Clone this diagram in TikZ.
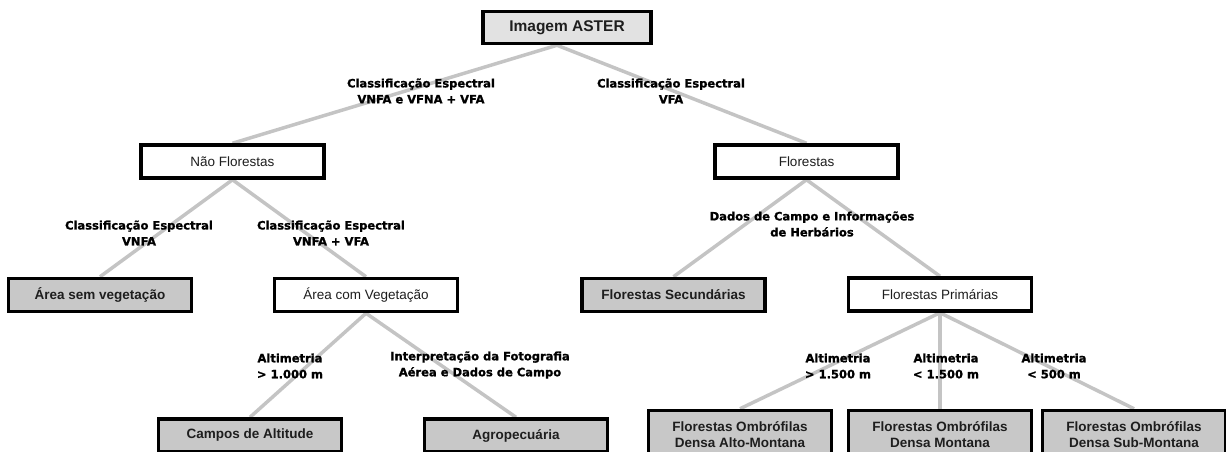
\documentclass[tikz,border=0pt]{standalone}
\usepackage{fontspec}
\setmainfont{Liberation Sans}
\newfontfamily\lblfont{DejaVu Sans}[BoldFeatures={FakeBold=1.2}]
\usepackage{tikz}
\usetikzlibrary{backgrounds}

\definecolor{linkgray}{HTML}{C4C4C4}
\definecolor{leafgray}{HTML}{C8C8C8}
\definecolor{rootgray}{HTML}{E2E2E2}
\definecolor{inkgray}{HTML}{1E1E1E}

\tikzset{
  classbox/.style={draw=black, line width=3.5pt, fill=white, text=inkgray,
    minimum width=183pt, minimum height=33pt, inner sep=0pt, align=center,
    font=\fontsize{13.5}{16}\selectfont},
  leafbox/.style={classbox, fill=leafgray, font=\bfseries\fontsize{13.5}{16}\selectfont},
  rootbox/.style={classbox, fill=rootgray, minimum width=168pt, minimum height=32pt,
    font=\bfseries\fontsize{15.5}{18}\selectfont},
  lbl/.style={align=center, inner sep=0pt, text=black,
    font=\lblfont\bfseries\fontsize{11.5}{16}\selectfont},
  link/.style={draw=linkgray, line width=3.5pt}
}

\begin{document}
\begin{tikzpicture}[x=1pt, y=-1pt]
  \useasboundingbox (0,0) rectangle (1226,452);

  \node[rootbox] (img) at (567,27.5) {Imagem ASTER};
  \node[classbox] (nf) at (232.5,161.5) {Não Florestas};
  \node[classbox] (fl) at (806.5,161.5) {Florestas};
  \node[leafbox] (asv) at (100,295) {Área sem vegetação};
  \node[classbox] (acv) at (366,295) {Área com Vegetação};
  \node[leafbox] (fs) at (673.5,295) {Florestas Secundárias};
  \node[classbox] (fp) at (940,294.5) {Florestas Primárias};
  \node[leafbox] (ca) at (250,435.5) {Campos de Altitude};
  \node[leafbox] (ag) at (516,435.5) {Agropecuária};
  \node[leafbox, minimum height=49pt] (fo1) at (740,435) {Florestas Ombrófilas\\Densa Alto-Montana};
  \node[leafbox, minimum height=49pt] (fo2) at (940,435) {Florestas Ombrófilas\\Densa Montana};
  \node[leafbox, minimum height=49pt] (fo3) at (1134,435) {Florestas Ombrófilas\\Densa Sub-Montana};

  \begin{scope}[on background layer]
    \path[link]
    ([xshift=-10pt]img.south) edge (nf.north)
    ([xshift=-10pt]img.south) edge (fl.north)
    (nf.south) edge (asv.north)
    (nf.south) edge (acv.north)
    (fl.south) edge (fs.north)
    (fl.south) edge (fp.north)
    (acv.south) edge (ca.north)
    (acv.south) edge (ag.north)
    (fp.south) edge (fo1.north)
    (fp.south) edge (fo2.north)
    (fp.south) edge (fo3.north)
    ;
  \end{scope}

  \node[lbl] (l-nf) at (421,91) {Classificação Espectral\\VNFA e VFNA + VFA};
  \node[lbl] (l-fl) at (671,91) {Classificação Espectral\\VFA};
  \node[lbl] (l-asv) at (139,233) {Classificação Espectral\\VNFA};
  \node[lbl] (l-acv) at (331,233) {Classificação Espectral\\VNFA + VFA};
  \node[lbl] (l-fs) at (812,224) {Dados de Campo e Informações\\de Herbários};
  \node[lbl] (l-ca) at (290,366) {Altimetria\\> 1.000 m};
  \node[lbl] (l-ag) at (480,365) {Interpretação da Fotografia\\Aérea e Dados de Campo};
  \node[lbl] (l-fo1) at (838,366) {Altimetria\\> 1.500 m};
  \node[lbl] (l-fo2) at (946,366) {Altimetria\\< 1.500 m};
  \node[lbl] (l-fo3) at (1054,366) {Altimetria\\< 500 m};
\end{tikzpicture}
\end{document}
